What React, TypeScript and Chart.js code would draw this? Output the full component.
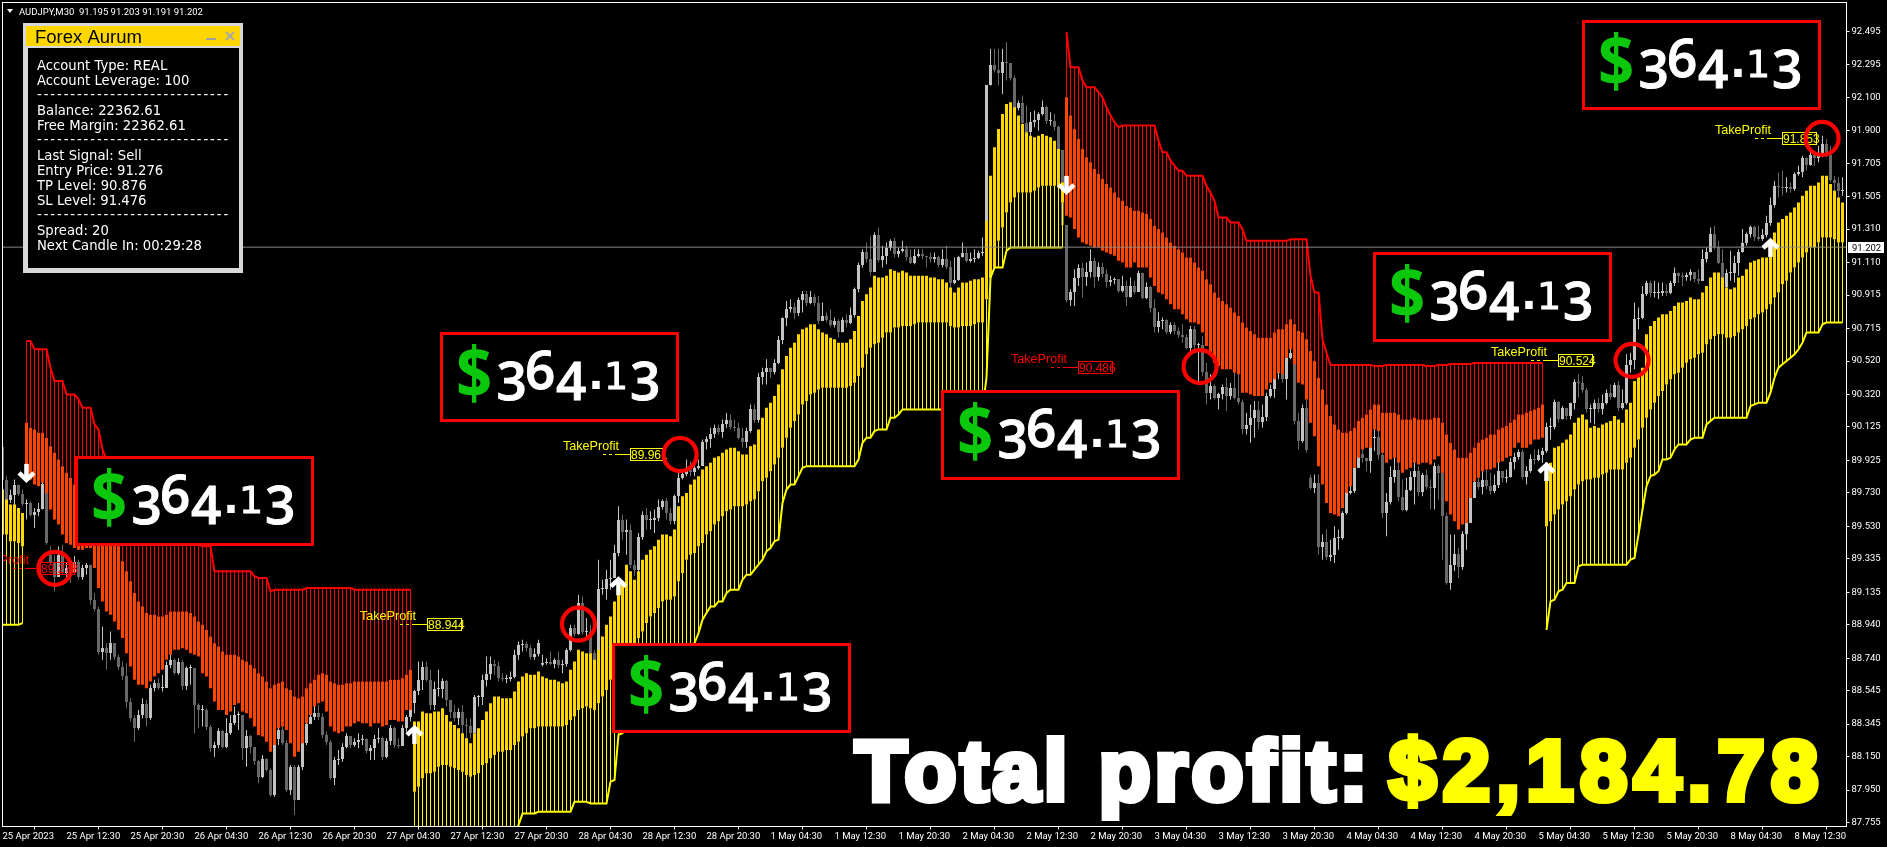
import React, { useEffect, useRef } from "react";
import { Chart, registerables } from "chart.js";
Chart.register(...registerables);

const symbolLine = "AUDJPY,M30  91.195 91.203 91.191 91.202";
const currentPrice = 91.202;
const priceMin = 87.7316;
const priceMax = 92.6675;
const priceTicks = [92.495,92.295,92.1,91.9,91.705,91.505,91.31,91.11,90.915,90.715,90.52,90.32,90.125,89.925,89.73,89.53,89.335,89.135,88.94,88.74,88.545,88.345,88.15,87.95,87.755];
const timeLabels = ["25 Apr 2023","25 Apr 12:30","25 Apr 20:30","26 Apr 04:30","26 Apr 12:30","26 Apr 20:30","27 Apr 04:30","27 Apr 12:30","27 Apr 20:30","28 Apr 04:30","28 Apr 12:30","28 Apr 20:30","1 May 04:30","1 May 12:30","1 May 20:30","2 May 04:30","2 May 12:30","2 May 20:30","3 May 04:30","3 May 12:30","3 May 20:30","4 May 04:30","4 May 12:30","4 May 20:30","5 May 04:30","5 May 12:30","5 May 20:30","8 May 04:30","8 May 12:30"];

const closes = [
89.807,89.688,89.717,89.777,89.723,89.664,89.670,89.598,89.616,89.634,89.783,89.430,89.310,89.226,89.358,89.250,
89.280,89.250,89.316,89.226,89.280,89.298,89.088,89.034,88.777,88.801,88.771,88.831,88.747,88.687,88.633,88.478,
88.382,88.322,88.400,88.466,88.382,88.561,88.591,88.561,88.561,88.699,88.729,88.651,88.717,88.573,88.681,88.681,
88.460,88.430,88.430,88.328,88.202,88.220,88.304,88.208,88.292,88.352,88.400,88.400,88.202,88.274,88.208,88.124,
88.028,88.136,88.070,87.920,88.256,88.310,88.232,87.950,88.088,87.890,88.088,88.232,88.346,88.388,88.412,88.388,
88.280,88.238,88.022,88.130,88.136,88.208,88.274,88.220,88.238,88.250,88.256,88.184,88.202,88.256,88.262,88.148,
88.244,88.322,88.220,88.214,88.322,88.388,88.472,88.543,88.609,88.687,88.609,88.460,88.555,88.555,88.603,88.490,
88.418,88.382,88.418,88.340,88.334,88.292,88.508,88.508,88.609,88.645,88.705,88.693,88.621,88.615,88.615,88.627,
88.759,88.819,88.825,88.801,88.747,88.765,88.831,88.711,88.717,88.705,88.729,88.699,88.705,88.789,88.921,88.885,
89.070,88.897,88.897,88.771,88.699,89.154,89.154,89.214,89.220,89.370,89.568,89.496,89.508,89.298,89.268,89.466,
89.598,89.568,89.568,89.580,89.646,89.682,89.610,89.562,89.711,89.819,89.843,89.867,89.855,89.879,89.891,90.035,
90.053,90.083,90.119,90.095,90.143,90.167,90.125,90.119,90.059,90.035,90.101,90.233,90.167,90.424,90.454,90.478,
90.454,90.508,90.646,90.778,90.832,90.844,90.808,90.886,90.922,90.868,90.904,90.868,90.760,90.790,90.766,90.736,
90.760,90.694,90.766,90.748,90.796,90.951,91.095,91.173,91.131,91.053,91.275,91.125,91.149,91.197,91.239,91.161,
91.179,91.191,91.143,91.107,91.149,91.161,91.149,91.143,91.131,91.143,91.095,91.131,91.083,90.987,91.005,91.143,
91.167,91.119,91.131,91.137,91.167,91.167,92.173,92.293,92.263,92.245,92.311,92.305,92.215,92.036,92.066,91.946,
91.892,91.952,91.964,92.000,92.042,91.958,91.958,91.922,91.784,91.335,90.886,90.934,91.017,91.077,91.023,91.053,
91.119,91.023,91.083,91.041,90.993,91.005,91.011,90.939,90.969,90.903,90.969,90.934,91.047,90.897,90.963,90.838,
90.724,90.760,90.766,90.694,90.736,90.700,90.676,90.664,90.598,90.712,90.616,90.616,90.454,90.328,90.370,90.298,
90.322,90.364,90.310,90.358,90.298,90.275,90.113,90.137,90.179,90.227,90.155,90.185,90.310,90.352,90.448,90.496,
90.412,90.538,90.568,90.161,90.041,90.239,89.987,89.759,89.789,89.406,89.436,89.346,89.358,89.460,89.460,89.610,
89.729,89.741,89.879,89.963,89.939,89.921,90.059,90.065,89.957,89.610,89.676,89.825,89.867,89.705,89.628,89.747,
89.825,89.861,89.735,89.837,89.765,89.759,89.891,89.849,89.592,89.190,89.298,89.364,89.286,89.484,89.550,89.699,
89.795,89.765,89.807,89.771,89.741,89.777,89.861,89.819,89.825,89.915,89.945,89.975,89.825,89.861,89.933,89.927,
89.957,89.981,90.125,90.125,90.275,90.173,90.239,90.191,90.269,90.394,90.388,90.346,90.233,90.233,90.269,90.233,
90.269,90.329,90.305,90.377,90.239,90.269,90.496,90.526,90.772,90.778,90.922,90.987,90.927,90.927,90.927,90.939,
90.927,90.987,91.047,91.029,91.023,91.035,91.053,91.011,90.999,91.131,91.173,91.281,91.203,91.107,90.963,91.047,
91.047,91.107,91.173,91.227,91.281,91.323,91.263,91.251,91.275,91.347,91.455,91.568,91.562,91.556,91.562,91.550,
91.640,91.652,91.736,91.694,91.754,91.736,91.754,91.820,91.754,91.604,91.586,91.538,91.544];
const firstOpen = 90.005;
const gapOpens: Record<number, number> = { 12: 89.358, 135: 88.7, 327: 89.82 };

const highs = [
90.02,89.83,89.75,89.81,89.78,89.75,89.69,89.68,89.64,89.67,89.80,89.75,89.41,89.36,89.41,89.42,
89.31,89.31,89.35,89.33,89.30,89.31,89.30,89.13,89.05,88.93,88.83,88.90,88.83,88.76,88.72,88.71,
88.50,88.40,88.43,88.50,88.49,88.58,88.61,88.62,88.64,88.72,88.76,88.74,88.74,88.73,88.69,88.70,
88.61,88.47,88.46,88.44,88.34,88.24,88.32,88.31,88.38,88.40,88.45,88.42,88.37,88.31,88.28,88.19,
88.13,88.16,88.14,88.08,88.26,88.33,88.33,88.25,88.10,88.10,88.10,88.25,88.40,88.43,88.46,88.46,
88.41,88.30,88.25,88.15,88.19,88.23,88.29,88.26,88.26,88.29,88.28,88.26,88.22,88.28,88.32,88.27,
88.26,88.34,88.33,88.26,88.34,88.40,88.49,88.55,88.72,88.72,88.72,88.67,88.60,88.67,88.62,88.61,
88.49,88.46,88.44,88.46,88.38,88.38,88.52,88.52,88.64,88.75,88.75,88.73,88.72,88.65,88.64,88.66,
88.79,88.84,88.85,88.84,88.82,88.80,88.85,88.76,88.74,88.78,88.74,88.78,88.73,88.80,88.94,88.94,
89.12,89.11,88.98,88.94,88.79,89.33,89.21,89.27,89.33,89.42,89.65,89.60,89.57,89.54,89.33,89.49,
89.62,89.64,89.62,89.63,89.69,89.69,89.70,89.64,89.72,89.87,89.87,89.93,89.92,89.94,89.93,90.05,
90.07,90.12,90.14,90.14,90.17,90.21,90.20,90.17,90.15,90.12,90.12,90.26,90.26,90.45,90.48,90.53,
90.48,90.53,90.67,90.78,90.88,90.89,90.87,90.90,90.94,90.94,90.94,90.92,90.91,90.87,90.81,90.83,
90.78,90.77,90.78,90.80,90.84,90.96,91.11,91.19,91.23,91.27,91.29,91.32,91.21,91.23,91.25,91.26,
91.20,91.24,91.21,91.19,91.19,91.19,91.19,91.15,91.17,91.17,91.15,91.19,91.21,91.12,91.14,91.15,
91.23,91.20,91.17,91.19,91.18,91.26,92.17,92.39,92.39,92.39,92.39,92.43,92.29,92.23,92.08,92.11,
92.05,92.01,92.02,92.01,92.08,92.05,92.01,92.00,91.93,91.78,91.33,90.95,91.07,91.10,91.11,91.11,
91.19,91.14,91.11,91.11,91.07,91.03,91.02,91.00,91.03,91.00,91.02,91.00,91.06,91.05,90.99,90.97,
90.89,90.81,90.78,90.77,90.75,90.75,90.72,90.74,90.68,90.73,90.73,90.63,90.67,90.51,90.44,90.38,
90.33,90.38,90.42,90.39,90.45,90.44,90.29,90.21,90.26,90.28,90.28,90.26,90.33,90.38,90.47,90.50,
90.50,90.59,90.60,90.59,90.21,90.26,90.29,89.84,89.84,89.84,89.48,89.51,89.45,89.53,89.51,89.62,
89.75,89.78,89.90,90.00,89.99,89.94,90.06,90.11,90.14,90.03,89.73,89.89,89.96,89.91,89.81,89.82,
89.86,89.91,89.89,89.85,89.87,89.81,89.91,89.90,89.87,89.61,89.48,89.48,89.40,89.50,89.57,89.78,
89.81,89.90,89.86,89.87,89.85,89.84,89.92,89.85,89.87,89.94,89.97,89.99,89.99,89.89,89.96,89.99,
89.99,90.00,90.15,90.18,90.29,90.28,90.25,90.24,90.27,90.41,90.44,90.43,90.36,90.26,90.29,90.30,
90.32,90.35,90.38,90.39,90.40,90.35,90.56,90.57,90.87,90.84,90.97,91.00,91.00,91.00,90.99,90.99,
90.98,91.00,91.08,91.05,91.05,91.05,91.07,91.05,91.07,91.19,91.20,91.32,91.33,91.24,91.19,91.07,
91.18,91.15,91.19,91.31,91.29,91.33,91.33,91.33,91.31,91.39,91.50,91.60,91.65,91.66,91.62,91.59,
91.65,91.69,91.75,91.74,91.78,91.78,91.81,91.87,91.85,91.81,91.63,91.62,91.62];

const lows = [
89.79,89.67,89.67,89.65,89.71,89.65,89.57,89.59,89.52,89.59,89.63,89.42,89.30,89.14,89.24,89.24,
89.22,89.19,89.25,89.21,89.21,89.24,89.06,89.02,88.76,88.73,88.67,88.73,88.73,88.67,88.61,88.44,
88.36,88.24,88.31,88.38,88.33,88.37,88.54,88.55,88.54,88.60,88.68,88.64,88.64,88.55,88.55,88.58,
88.29,88.32,88.33,88.31,88.18,88.15,88.20,88.20,88.20,88.28,88.34,88.31,88.13,88.09,88.17,88.10,
87.99,88.02,88.06,87.91,87.91,88.22,88.22,87.94,87.92,87.80,87.89,88.07,88.22,88.37,88.37,88.37,
88.26,88.22,88.01,87.98,88.10,88.12,88.20,88.20,88.21,88.20,88.22,88.17,88.13,88.13,88.23,88.13,
88.14,88.22,88.20,88.20,88.23,88.30,88.36,88.41,88.52,88.55,88.60,88.43,88.43,88.51,88.50,88.45,
88.38,88.36,88.34,88.29,88.25,88.26,88.29,88.45,88.46,88.57,88.61,88.64,88.60,88.60,88.59,88.60,
88.62,88.73,88.78,88.78,88.73,88.73,88.75,88.69,88.70,88.70,88.68,88.68,88.65,88.69,88.78,88.87,
88.88,88.88,88.85,88.76,88.69,88.79,89.12,89.09,89.15,89.24,89.35,89.45,89.36,89.28,89.23,89.25,
89.45,89.51,89.51,89.49,89.56,89.63,89.57,89.54,89.54,89.67,89.81,89.83,89.83,89.83,89.87,89.99,
89.99,90.00,90.06,90.08,90.06,90.12,90.11,90.10,90.05,90.00,90.00,90.09,90.15,90.15,90.38,90.38,
90.42,90.44,90.50,90.62,90.73,90.81,90.77,90.79,90.81,90.85,90.86,90.85,90.74,90.76,90.75,90.72,
90.72,90.66,90.69,90.72,90.74,90.78,90.93,91.08,91.11,91.03,91.15,91.11,91.08,91.10,91.18,91.14,
91.14,91.17,91.12,91.10,91.10,91.14,91.13,91.08,91.11,91.11,91.08,91.08,91.07,90.96,90.98,91.00,
91.14,91.11,91.11,91.11,91.13,91.15,91.14,92.17,92.25,92.17,92.12,92.20,92.20,92.02,92.02,91.93,
91.87,91.87,91.92,91.90,91.99,91.94,91.93,91.90,91.75,91.32,90.87,90.85,90.85,90.97,90.90,90.97,
91.02,90.96,91.00,91.02,90.96,90.97,90.98,90.93,90.93,90.85,90.90,90.92,90.95,90.89,90.89,90.81,
90.69,90.69,90.71,90.68,90.68,90.68,90.66,90.63,90.59,90.56,90.59,90.39,90.43,90.26,90.29,90.29,
90.23,90.29,90.22,90.29,90.29,90.26,90.08,90.08,90.03,90.06,90.11,90.12,90.16,90.30,90.30,90.41,
90.39,90.29,90.53,90.14,89.99,90.03,89.97,89.75,89.73,89.36,89.33,89.33,89.32,89.31,89.39,89.45,
89.60,89.72,89.73,89.93,89.91,89.86,89.85,89.98,89.93,89.58,89.47,89.66,89.79,89.68,89.62,89.62,
89.74,89.66,89.71,89.71,89.75,89.63,89.63,89.69,89.33,89.18,89.15,89.26,89.22,89.27,89.39,89.57,
89.72,89.75,89.72,89.75,89.72,89.73,89.76,89.79,89.79,89.82,89.87,89.93,89.81,89.78,89.85,89.90,
89.92,89.91,89.97,90.05,90.11,90.15,90.17,90.17,90.17,90.23,90.30,90.33,90.21,90.15,90.14,90.21,
90.20,90.26,90.29,90.30,90.22,90.23,90.26,90.45,90.47,90.71,90.77,90.91,90.90,90.90,90.89,90.91,
90.91,90.92,90.97,90.99,90.97,91.00,91.00,90.99,90.98,91.02,91.11,91.17,91.19,91.10,90.95,90.95,
91.00,90.99,91.03,91.17,91.21,91.26,91.24,91.24,91.24,91.26,91.33,91.44,91.50,91.51,91.53,91.53,
91.54,91.63,91.62,91.66,91.69,91.69,91.71,91.74,91.74,91.59,91.51,91.48,91.51];

const bandTops = [
89.75,89.69,89.66,89.66,89.64,89.61,90.15,90.12,90.11,90.09,90.09,90.06,90.01,89.97,89.93,89.89,
89.85,89.82,89.78,89.75,89.72,89.69,89.66,89.63,89.60,89.57,89.54,89.51,89.47,89.41,89.32,89.26,
89.20,89.13,89.08,89.05,89.01,89.00,89.00,88.99,88.99,89.00,89.02,89.02,89.02,89.02,89.02,89.01,
88.99,88.96,88.94,88.91,88.87,88.83,88.81,88.78,88.76,88.76,88.76,88.75,88.73,88.72,88.70,88.68,
88.65,88.63,88.60,88.56,88.58,88.59,88.60,88.56,88.55,88.51,88.50,88.51,88.56,88.59,88.61,88.64,
88.65,88.64,88.60,88.59,88.58,88.58,88.59,88.59,88.60,88.60,88.60,88.60,88.60,88.60,88.60,88.60,
88.60,88.61,88.61,88.61,88.62,88.64,88.67,88.36,88.36,88.42,88.41,88.41,88.42,88.42,88.44,88.40,
88.36,88.34,88.32,88.29,88.26,88.23,88.29,88.32,88.37,88.42,88.47,88.51,88.51,88.50,88.50,88.50,
88.54,88.60,88.63,88.65,88.64,88.64,88.66,88.63,88.62,88.61,88.61,88.60,88.59,88.60,88.67,88.72,
88.79,88.78,88.77,88.77,88.73,88.79,88.87,88.94,88.99,89.08,89.13,89.18,89.30,89.26,89.21,89.26,
89.33,89.36,89.39,89.41,89.45,89.48,89.48,89.47,89.51,89.65,89.71,89.73,89.78,89.81,89.83,89.87,
89.89,89.91,89.94,89.95,89.97,89.99,90.00,90.00,89.98,89.96,89.96,90.01,90.02,90.11,90.18,90.24,
90.27,90.31,90.38,90.47,90.55,90.60,90.63,90.68,90.71,90.72,90.74,90.74,90.71,90.69,90.68,90.66,
90.65,90.63,90.63,90.63,90.65,90.70,90.79,90.88,90.92,90.96,91.03,91.02,91.02,91.03,91.07,91.06,
91.05,91.06,91.05,91.03,91.03,91.03,91.03,91.03,91.02,91.02,91.01,91.01,90.99,90.96,90.93,90.96,
90.99,90.99,91.00,91.01,91.01,91.02,91.36,91.63,91.80,91.91,92.00,92.06,92.07,92.04,91.99,91.94,
91.89,91.87,91.86,91.87,91.88,91.87,91.86,91.84,91.79,91.59,92.10,91.99,91.91,91.85,91.79,91.74,
91.71,91.67,91.64,91.61,91.58,91.56,91.53,91.50,91.48,91.45,91.44,91.42,91.42,91.41,91.40,91.37,
91.33,91.31,91.29,91.26,91.23,91.21,91.19,91.17,91.14,91.14,91.11,91.08,91.06,91.01,90.98,90.93,
90.90,90.88,90.86,90.84,90.81,90.79,90.75,90.72,90.70,90.68,90.66,90.66,90.66,90.66,90.69,90.71,
90.71,90.74,90.77,90.74,90.70,90.69,90.65,90.58,90.52,90.42,90.35,90.26,90.19,90.14,90.11,90.09,
90.09,90.10,90.12,90.16,90.18,90.20,90.23,90.26,90.26,90.21,90.21,90.21,90.21,90.20,90.17,90.17,
90.17,90.18,90.17,90.17,90.17,90.17,90.18,90.18,90.15,90.08,90.03,89.99,89.94,89.94,89.94,89.97,
90.00,90.03,90.05,90.06,90.08,90.08,90.11,90.12,90.13,90.15,90.17,90.20,90.20,90.21,90.22,90.23,
90.24,90.26,89.91,89.91,90.00,90.01,90.03,90.05,90.08,90.15,90.18,90.20,90.17,90.12,90.13,90.12,
90.14,90.15,90.16,90.19,90.17,90.15,90.23,90.27,90.40,90.43,90.48,90.68,90.73,90.76,90.78,90.80,
90.80,90.82,90.85,90.87,90.87,90.88,90.90,90.89,90.89,90.93,90.97,91.02,91.05,91.05,91.02,90.96,
90.95,90.96,91.02,91.03,91.07,91.11,91.12,91.13,91.14,91.14,91.17,91.29,91.35,91.37,91.39,91.41,
91.44,91.47,91.51,91.54,91.57,91.57,91.59,91.63,91.63,91.58,91.54,91.50,91.47];

const bandBottoms = [
89.48,89.48,89.44,89.44,89.43,89.41,89.82,89.81,89.78,89.77,89.79,89.73,89.63,89.57,89.54,89.48,
89.43,89.42,89.40,89.39,89.39,89.40,89.40,89.28,89.16,89.08,89.02,89.00,88.96,88.91,88.86,88.77,
88.69,88.61,88.58,88.58,88.56,88.60,88.63,88.65,88.67,88.73,88.76,88.79,88.79,88.80,88.79,88.77,
88.76,88.75,88.65,88.63,88.56,88.48,88.43,88.43,88.40,88.42,88.46,88.47,88.42,88.41,88.38,88.33,
88.28,88.27,88.24,88.18,88.22,88.32,88.33,88.31,88.23,88.15,88.18,88.23,88.35,88.40,88.45,88.47,
88.48,88.42,88.33,88.30,88.29,88.30,88.33,88.33,88.35,88.36,88.35,88.35,88.33,88.35,88.35,88.33,
88.34,88.37,88.37,88.36,88.36,88.43,88.43,87.94,87.97,88.02,88.05,88.05,88.06,88.09,88.10,88.10,
88.09,88.08,88.07,88.06,88.04,88.03,88.04,88.05,88.10,88.11,88.14,88.16,88.18,88.18,88.19,88.19,
88.22,88.24,88.27,88.29,88.32,88.32,88.33,88.33,88.33,88.33,88.33,88.33,88.33,88.34,88.37,88.39,
88.43,88.44,88.45,88.44,88.43,88.47,88.51,88.55,88.61,88.64,88.66,88.68,88.73,88.76,88.80,88.86,
88.90,88.95,88.99,89.01,89.04,89.08,89.09,89.09,89.11,89.20,89.25,89.33,89.36,89.37,89.41,89.43,
89.48,89.50,89.54,89.56,89.59,89.62,89.63,89.65,89.65,89.65,89.66,89.68,89.69,89.74,89.80,89.82,
89.86,89.90,89.94,90.00,90.06,90.12,90.16,90.20,90.26,90.28,90.32,90.33,90.35,90.36,90.36,90.36,
90.36,90.36,90.36,90.36,90.37,90.39,90.43,90.48,90.56,90.60,90.62,90.63,90.66,90.69,90.69,90.72,
90.72,90.73,90.73,90.73,90.74,90.75,90.75,90.75,90.75,90.75,90.75,90.75,90.75,90.73,90.72,90.72,
90.73,90.73,90.73,90.74,90.75,90.75,90.89,91.02,91.08,91.24,91.32,91.41,91.47,91.50,91.53,91.53,
91.53,91.53,91.54,91.56,91.57,91.57,91.57,91.57,91.56,91.47,91.39,91.38,91.31,91.26,91.23,91.22,
91.21,91.20,91.20,91.18,91.17,91.16,91.15,91.12,91.11,91.08,91.08,91.11,91.08,91.08,91.08,91.02,
90.97,90.93,90.92,90.89,90.86,90.83,90.83,90.80,90.77,90.75,90.75,90.74,90.69,90.61,90.57,90.51,
90.49,90.47,90.47,90.47,90.45,90.44,90.33,90.33,90.32,90.31,90.31,90.31,90.35,90.39,90.41,90.45,
90.44,90.54,90.59,90.50,90.39,90.38,90.29,90.15,90.07,89.89,89.78,89.67,89.61,89.60,89.59,89.64,
89.73,89.77,89.88,89.94,89.99,90.00,90.00,90.11,90.10,89.97,89.91,89.93,89.94,89.91,89.85,89.87,
89.88,89.91,89.90,89.91,89.91,89.90,89.93,89.95,89.85,89.68,89.60,89.56,89.51,89.54,89.55,89.70,
89.80,89.82,89.86,89.87,89.87,89.88,89.91,89.92,89.94,89.95,90.00,90.03,90.00,90.00,90.02,90.05,
90.05,90.06,89.53,89.56,89.60,89.63,89.66,89.68,89.71,89.75,89.78,89.80,89.81,89.81,89.82,89.82,
89.84,89.85,89.87,89.87,89.87,89.87,89.91,89.94,90.00,90.05,90.12,90.18,90.23,90.27,90.31,90.34,
90.38,90.41,90.44,90.45,90.48,90.51,90.53,90.54,90.56,90.57,90.62,90.65,90.67,90.68,90.68,90.66,
90.66,90.67,90.69,90.71,90.73,90.77,90.78,90.80,90.81,90.83,90.86,90.90,90.93,90.98,91.00,91.05,
91.08,91.11,91.14,91.17,91.20,91.20,91.23,91.26,91.26,91.26,91.25,91.23,91.23];

const bandEdges = [
88.94,88.94,88.94,88.94,88.94,88.95,90.64,90.64,90.59,90.59,90.59,90.59,90.48,90.40,90.40,90.40,
90.32,90.32,90.32,90.29,90.24,90.24,90.24,90.14,90.11,89.99,89.93,89.87,89.81,89.75,89.69,89.63,
89.60,89.57,89.54,89.52,89.51,89.50,89.48,89.48,89.47,89.47,89.46,89.45,89.45,89.44,89.43,89.43,
89.42,89.42,89.41,89.41,89.41,89.26,89.26,89.26,89.26,89.26,89.26,89.26,89.26,89.26,89.26,89.23,
89.22,89.22,89.22,89.14,89.15,89.15,89.15,89.15,89.15,89.15,89.15,89.15,89.16,89.16,89.16,89.16,
89.16,89.16,89.16,89.16,89.16,89.16,89.16,89.16,89.15,89.15,89.15,89.15,89.15,89.15,89.15,89.15,
89.15,89.15,89.15,89.15,89.15,89.15,89.15,87.60,87.60,87.60,87.60,87.60,87.60,87.60,87.60,87.60,
87.60,87.60,87.60,87.60,87.60,87.60,87.60,87.60,87.60,87.60,87.60,87.60,87.60,87.60,87.60,87.60,
87.60,87.74,87.81,87.81,87.81,87.81,87.82,87.82,87.82,87.82,87.82,87.82,87.82,87.82,87.82,87.88,
87.88,87.88,87.88,87.87,87.87,87.87,87.87,87.87,88.00,88.01,88.28,88.29,88.34,88.40,88.46,88.51,
88.55,88.58,88.61,88.63,88.66,88.68,88.70,88.73,88.75,88.78,88.79,88.80,88.81,88.83,88.89,88.97,
89.01,89.05,89.05,89.08,89.08,89.13,89.15,89.15,89.15,89.21,89.24,89.24,89.27,89.30,89.33,89.38,
89.40,89.44,89.45,89.67,89.75,89.78,89.78,89.83,89.88,89.89,89.89,89.89,89.89,89.89,89.89,89.89,
89.89,89.89,89.89,89.89,89.89,89.89,89.93,90.03,90.06,90.06,90.10,90.11,90.11,90.11,90.18,90.18,
90.20,90.23,90.23,90.23,90.23,90.23,90.23,90.23,90.23,90.23,90.23,90.23,90.23,90.23,90.23,90.23,
90.23,90.23,90.23,90.23,90.23,90.23,90.42,91.02,91.08,91.08,91.08,91.18,91.20,91.20,91.20,91.20,
91.20,91.20,91.20,91.20,91.20,91.20,91.20,91.20,91.20,91.20,92.49,92.28,92.28,92.28,92.20,92.16,
92.16,92.16,92.13,92.10,92.04,91.99,91.95,91.92,91.93,91.93,91.93,91.93,91.93,91.93,91.93,91.93,
91.93,91.84,91.77,91.77,91.72,91.69,91.66,91.66,91.63,91.63,91.63,91.63,91.63,91.57,91.53,91.48,
91.38,91.38,91.38,91.35,91.35,91.35,91.31,91.24,91.24,91.24,91.24,91.24,91.24,91.24,91.24,91.24,
91.24,91.24,91.25,91.25,91.25,91.25,91.25,91.03,90.93,90.93,90.65,90.57,90.496,90.496,90.496,90.496,
90.496,90.496,90.496,90.496,90.496,90.496,90.496,90.49,90.49,90.49,90.496,90.496,90.496,90.496,90.496,90.496,
90.496,90.496,90.496,90.496,90.49,90.49,90.49,90.496,90.496,90.496,90.502,90.502,90.502,90.502,90.502,90.502,
90.508,90.508,90.508,90.508,90.508,90.508,90.508,90.508,90.508,90.508,90.508,90.508,90.508,90.508,90.508,90.508,
90.508,90.508,88.91,89.08,89.09,89.14,89.15,89.19,89.19,89.19,89.29,89.30,89.30,89.30,89.30,89.30,
89.30,89.30,89.30,89.30,89.30,89.30,89.30,89.33,89.34,89.48,89.63,89.77,89.83,89.84,89.86,89.93,
89.93,89.94,89.99,90.02,90.02,90.02,90.05,90.06,90.06,90.06,90.14,90.16,90.18,90.18,90.18,90.18,
90.18,90.18,90.18,90.18,90.18,90.25,90.26,90.27,90.27,90.27,90.33,90.42,90.48,90.50,90.52,90.54,
90.56,90.59,90.63,90.69,90.69,90.69,90.69,90.74,90.75,90.75,90.75,90.75,90.75];

const redRanges = [[6, 102], [266, 385]];

const takeProfitIndex = [9.4, 106, 156.9, 268.9, 388.9, 444.9];
const takeProfitPrice = [89.278, 88.944, 89.96, 90.486, 90.524, 91.853];
const takeProfitText = ["89.278", "88.944", "89.961", "90.486", "90.524", "91.853"];
const takeProfitRed = [true, false, false, true, false, false];
const hitIndex = [13.1, 144, 169.4, 299.4, 407.4, 454.9];
const signalIndex = [6, 103, 154, 266, 386, 442];
const signalPrice = [89.79, 88.34, 89.23, 91.515, 89.915, 91.257];
const signalUp = [false, true, true, false, true, true];

const profitAmount = "364.13";
const profitBoxes = [[75, 456], [440, 332], [612, 643], [941, 390], [1373, 252], [1582, 20]];
const panelTitle = "Forex Aurum";
const panelLines: [string, number][] = [
  ["Account Type: REAL", 70], ["Account Leverage: 100", 85],
  ["Balance: 22362.61", 115], ["Free Margin: 22362.61", 130],
  ["Last Signal: Sell", 160], ["Entry Price: 91.276", 175], ["TP Level: 90.876", 190], ["SL Level: 91.476", 205],
  ["Spread: 20", 235], ["Next Candle In: 00:29:28", 250],
];
const panelDashes = [99, 144, 219];
const totalLabel = "Total profit:";
const totalValue = "$2,184.78";

const N = closes.length;
const opens = closes.map((c, i) => gapOpens[i] ?? (i === 0 ? firstOpen : closes[i - 1]));
const isRed = (i: number) => redRanges.some(([a, b]) => i >= a && i <= b);
const UP = "#c4c4c4";
const DOWN = "#686868";
const candleColors = closes.map((c, i) => (c >= opens[i] ? UP : DOWN));
const edge = (red: boolean) => bandEdges.map((v, i) => (isRed(i) === red ? v : null));

const overlay = {
  id: "overlay",
  afterDraw(chart: any) {
    const { ctx, scales: { x, y } } = chart;
    const font = "Roboto";
    ctx.save();
    // frame
    ctx.strokeStyle = "#fff";
    ctx.lineWidth = 1;
    ctx.strokeRect(2.5, 2.5, 1844, 824);
    // symbol line
    ctx.fillStyle = "#fff";
    ctx.beginPath(); ctx.moveTo(7, 9); ctx.lineTo(13, 9); ctx.lineTo(10, 13); ctx.closePath(); ctx.fill();
    ctx.font = `9.5px ${font}`;
    ctx.textAlign = "left"; ctx.textBaseline = "alphabetic";
    ctx.fillText(symbolLine, 19, 15);

    // current price tag
    const cy = y.getPixelForValue(currentPrice);
    ctx.fillStyle = "#fff";
    ctx.fillRect(1848, Math.round(cy) - 5, 36, 11);
    ctx.fillStyle = "#000";
    ctx.fillText(currentPrice.toFixed(3), 1852, Math.round(cy) + 4);

    // take-profit labels
    ctx.save();
    ctx.beginPath(); ctx.rect(3, 3, 1843, 823); ctx.clip();
    takeProfitPrice.forEach((p, i) => {
      const col = takeProfitRed[i] ? "#ff0000" : "#ffff00";
      const bx = Math.round(x.getPixelForValue(takeProfitIndex[i]));
      const by = Math.round(y.getPixelForValue(p));
      ctx.fillStyle = col; ctx.strokeStyle = col; ctx.lineWidth = 1;
      ctx.font = '12.6px "Liberation Sans"';
      ctx.textAlign = "right";
      ctx.fillText("TakeProfit", bx - 11, by - 4);
      ctx.setLineDash([3, 3]);
      ctx.beginPath(); ctx.moveTo(bx - 27, by + 0.5); ctx.lineTo(bx - 12, by + 0.5); ctx.stroke();
      ctx.setLineDash([]);
      ctx.beginPath(); ctx.moveTo(bx - 12, by + 0.5); ctx.lineTo(bx, by + 0.5); ctx.stroke();
      ctx.strokeRect(bx + 0.5, by - 5.5, 34, 12);
      ctx.font = '12px "Liberation Sans"';
      ctx.textAlign = "left";
      ctx.fillText(takeProfitText[i], bx + 1, by + 5);
    });
    ctx.restore();

    // hit circles
    ctx.strokeStyle = "#ff0000"; ctx.lineWidth = 4.2;
    takeProfitPrice.forEach((p, i) => {
      ctx.beginPath();
      ctx.arc(x.getPixelForValue(hitIndex[i]), y.getPixelForValue(p), 16.5, 0, Math.PI * 2);
      ctx.stroke();
    });

    // signal arrows
    ctx.strokeStyle = "#fff"; ctx.lineWidth = 4.6; ctx.lineCap = "butt"; ctx.lineJoin = "miter";
    signalPrice.forEach((p, i) => {
      const ax = x.getPixelForValue(signalIndex[i]);
      const ay = y.getPixelForValue(p);
      const d = signalUp[i] ? 1 : -1;
      ctx.beginPath(); ctx.moveTo(ax, ay + d * 3); ctx.lineTo(ax, ay + d * 19); ctx.stroke();
      ctx.beginPath(); ctx.moveTo(ax - 7.5, ay + d * 10); ctx.lineTo(ax, ay + d * 3); ctx.lineTo(ax + 7.5, ay + d * 10); ctx.stroke();
    });

    // profit boxes
    profitBoxes.forEach(([bx, by]) => {
      ctx.fillStyle = "#000"; ctx.fillRect(bx, by, 239, 90);
      ctx.strokeStyle = "#ff0000"; ctx.lineWidth = 3;
      ctx.strokeRect(bx + 1.5, by + 1.5, 236, 87);
      ctx.textAlign = "left";
      ctx.save();
      ctx.fillStyle = "#0cc80c";
      ctx.translate(bx + 16, by + 67);
      ctx.scale(0.88, 1);
      ctx.font = '700 72px "Open Sans"';
      ctx.fillText("$", 0, 0);
      ctx.restore();
      ctx.fillStyle = "#fff"; ctx.strokeStyle = "#fff"; ctx.lineWidth = 0.9;
      const chars = profitAmount.split("");
      const dx = [56.5, 85, 116, 148, 164, 190];
      const dy = [68, 57, 68, 57, 57, 68];
      chars.forEach((c, k) => {
        ctx.font = c === "1" ? '38px "DejaVu Sans"' : c === "." ? 'bold 42px "DejaVu Sans"' : '600 53px "Open Sans"';
        ctx.fillText(c, bx + dx[k], by + dy[k]);
        if (c !== ".") ctx.strokeText(c, bx + dx[k], by + dy[k]);
      });
    });

    // info panel
    ctx.fillStyle = "#d8d8d8"; ctx.fillRect(23, 23, 220, 250);
    ctx.fillStyle = "#ffd700"; ctx.fillRect(26, 26, 214, 20);
    ctx.fillStyle = "#000"; ctx.fillRect(28, 48, 211, 220);
    ctx.font = '18.5px "Liberation Sans"'; ctx.textAlign = "left";
    ctx.fillText(panelTitle, 35, 43);
    ctx.fillStyle = "#a0a0a0"; ctx.fillRect(206, 38, 10, 2);
    ctx.strokeStyle = "#a8a8a8"; ctx.lineWidth = 2;
    ctx.beginPath(); ctx.moveTo(226, 32); ctx.lineTo(234, 40); ctx.moveTo(234, 32); ctx.lineTo(226, 40); ctx.stroke();
    ctx.fillStyle = "#fff";
    ctx.font = '13.2px "DejaVu Sans"';
    panelLines.forEach(([t, by]) => ctx.fillText(t, 37, by));
    ctx.letterSpacing = "1.9px";
    panelDashes.forEach((by) => ctx.fillText("-----------------------------", 37, by));
    ctx.letterSpacing = "0px";

    // total
    ctx.font = 'bold 85px "Liberation Sans"';
    ctx.lineWidth = 6; ctx.lineJoin = "miter"; ctx.miterLimit = 3;
    ctx.fillStyle = "#fff"; ctx.strokeStyle = "#fff";
    ctx.letterSpacing = "3.9px";
    ctx.fillText(totalLabel, 855, 800); ctx.strokeText(totalLabel, 855, 800);
    ctx.letterSpacing = "6.4px";
    ctx.fillStyle = "#ffff00"; ctx.strokeStyle = "#ffff00";
    ctx.fillText(totalValue, 1389, 800); ctx.strokeText(totalValue, 1389, 800);
    ctx.letterSpacing = "0px";
    ctx.restore();
  },
};

export default function App() {
  const ref = useRef<HTMLCanvasElement>(null);
  useEffect(() => {
    document.body.style.margin = "0";
    document.body.style.background = "#000";
    const floating = (a: number[], b: number[], thickness: number, color: any, order: number) => ({
      type: "bar" as const,
      data: a.map((v, i) => [Math.min(v, b[i]), Math.max(v, b[i])]),
      backgroundColor: color,
      barThickness: thickness,
      grouped: false,
      borderWidth: 0,
      inflateAmount: 0,
      minBarLength: 1,
      order,
    });
    const chart = new Chart(ref.current!, {
      type: "bar",
      data: {
        labels: Array.from({ length: N + 1 }, (_, i) => String(i)),
        datasets: [
          floating(lows, highs, 1, candleColors, 6),
          floating(opens, closes, 3, candleColors, 5),
          floating(bandEdges, bandEdges.map((_, i) => (isRed(i) ? bandTops[i] : bandBottoms[i])), 1,
            bandEdges.map((_, i) => (isRed(i) ? "#ff0000" : "#ffff00")), 4),
          floating(bandTops, bandBottoms, 3, bandEdges.map((_, i) => (isRed(i) ? "#ff4500" : "#ffd700")), 3),
          { type: "line" as const, data: edge(true), borderColor: "#ff0000", borderWidth: 2, pointRadius: 0, tension: 0, order: 2 },
          { type: "line" as const, data: edge(false), borderColor: "#ffff00", borderWidth: 2, pointRadius: 0, tension: 0, order: 2 },
          { type: "line" as const, data: closes.map(() => currentPrice).concat(currentPrice), borderColor: "#8c8c8c", borderWidth: 1, pointRadius: 0, tension: 0, order: 1 },
        ] as any,
      },
      options: {
        responsive: false,
        animation: false,
        events: [],
        layout: { autoPadding: false, padding: { left: 2.5, top: 2.5, right: 0, bottom: 0 } },
        plugins: { legend: { display: false }, tooltip: { enabled: false } },
        scales: {
          x: {
            type: "category",
            offset: false,
            grid: { drawOnChartArea: false, drawTicks: true, tickLength: 3, color: "#fff" },
            border: { color: "#fff" },
            afterBuildTicks: (s: any) => { s.ticks = s.ticks.filter((t: any) => t.value % 16 === 0); },
            afterFit: (s: any) => { s.height = 20.5; s.paddingLeft = s.paddingRight = 0; },
            ticks: {
              autoSkip: false, maxRotation: 0, minRotation: 0, align: "start", padding: 1, color: "#fff",
              font: { family: "Roboto", size: 9.5 },
              callback: (v: any) => timeLabels[Number(v) / 16],
            },
          },
          y: {
            position: "right",
            min: priceMin,
            max: priceMax,
            grid: { drawOnChartArea: false, drawTicks: true, tickLength: 3, color: "#fff" },
            border: { color: "#fff" },
            afterBuildTicks: (s: any) => { s.ticks = priceTicks.map((value) => ({ value })); },
            afterFit: (s: any) => { s.width = 40.5; s.paddingTop = s.paddingBottom = 0; },
            ticks: {
              autoSkip: false, padding: 2, color: "#fff",
              font: { family: "Roboto", size: 9.5 },
              callback: (v: any) => Number(v).toFixed(3),
            },
          },
        },
      } as any,
      plugins: [overlay],
    } as any);
    return () => chart.destroy();
  }, []);
  return (
    <div style={{ position: "absolute", left: 0, top: 0, width: 1887, height: 847, background: "#000" }}>
      <canvas ref={ref} width={1887} height={847} style={{ display: "block" }} />
    </div>
  );
}
